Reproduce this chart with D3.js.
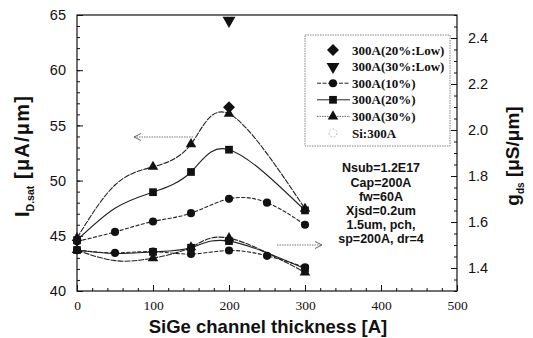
<!DOCTYPE html>
<html><head><meta charset="utf-8">
<script src="https://cdn.jsdelivr.net/npm/d3@7/dist/d3.min.js"></script>
<style>
html,body{margin:0;padding:0;background:#fff;}
svg{display:block;}
</style></head>
<body>
<svg id="c" width="533" height="338"></svg>
<script>
// ---- data ----
const xTickValues = [0, 100, 200, 300, 400, 500];
const leftTickValues = [40, 45, 50, 55, 60, 65];
const rightTickValues = [1.4, 1.6, 1.8, 2.0, 2.2, 2.4];

const thickness10 = [0, 50, 100, 150, 200, 250, 300];
const thickness2030 = [0, 50, 100, 150, 200, 300];
// points of the 20%/30% series that carry a visible marker
const marked10 = [true, true, true, true, true, true, true];
const marked2030 = [true, false, true, true, true, true];

// I_D,sat (left axis)
const idsat10 = [44.5, 45.35, 46.3, 47.05, 48.35, 48.0, 46.0];
const idsat20 = [44.6, 47.5, 48.95, 50.78, 52.8, 47.3];
const idsat30 = [44.8, 49.6, 51.25, 53.3, 56.05, 47.45];
const lowThickness = [200];
const idsat20Low = [56.65];
const idsat30Low = [64.5];

// g_ds (right axis)
const gds10 = [1.478, 1.466, 1.471, 1.461, 1.476, 1.453, 1.403];
const gds20 = [1.478, 1.463, 1.470, 1.488, 1.517, 1.397];
const gds30 = [1.478, 1.432, 1.443, 1.490, 1.530, 1.381];

const legendLabels = ["300A(20%:Low)", "300A(30%:Low)", "300A(10%)", "300A(20%)", "300A(30%)", "Si:300A"];
const noteLines = ["Nsub=1.2E17", "Cap=200A", "fw=60A", "Xjsd=0.2um", "1.5um, pch,", "sp=200A, dr=4"];

// ---- layout ----
const X0 = 77, X1 = 457, Y0 = 15, Y1 = 291;
const svg = d3.select("#c");
const sans = "'Liberation Sans', Arial, sans-serif";
const serif = "'Liberation Serif', 'Times New Roman', serif";

const x = d3.scaleLinear().domain([0, 500]).range([X0, X1]);
const yL = d3.scaleLinear().domain([40, 65]).range([Y1, Y0]);
const yR = d3.scaleLinear().domain([1.3, 2.5]).range([Y1, Y0]);

const ink = "#111";

// frame
svg.append("rect").attr("x", X0).attr("y", Y0).attr("width", X1 - X0).attr("height", Y1 - Y0)
  .attr("fill", "none").attr("stroke", ink).attr("stroke-width", 1.2);

// bottom axis: minor + major ticks (inward)
const gB = svg.append("g").attr("transform", `translate(0,${Y1})`);
gB.call(d3.axisBottom(x).tickValues(d3.range(0, 501, 20)).tickSize(-3).tickFormat(""));
gB.call(g => g.append("g").call(d3.axisBottom(x).tickValues(xTickValues).tickSize(-6).tickFormat(d3.format("d"))));
gB.selectAll(".domain").remove();
gB.selectAll("line").attr("stroke", ink);
gB.selectAll("text").attr("font-family", serif).attr("font-size", 13.5).attr("fill", ink)
  .attr("y", 9).attr("dy", "0.71em");

// left axis
const gL = svg.append("g").attr("transform", `translate(${X0},0)`);
gL.call(d3.axisLeft(yL).tickValues(d3.range(40, 65.01, 1)).tickSize(-3).tickFormat(""));
gL.call(g => g.append("g").call(d3.axisLeft(yL).tickValues(leftTickValues).tickSize(-6).tickFormat(d3.format("d"))));
gL.selectAll(".domain").remove();
gL.selectAll("line").attr("stroke", ink);
gL.selectAll("text").attr("font-family", sans).attr("font-size", 14.5).attr("fill", ink).attr("x", -11);

// right axis
const gR = svg.append("g").attr("transform", `translate(${X1},0)`);
gR.call(d3.axisRight(yR).tickValues(d3.range(1.3, 2.501, 0.05)).tickSize(-3).tickFormat(""));
gR.call(g => g.append("g").call(d3.axisRight(yR).tickValues(rightTickValues).tickSize(-6).tickFormat(d3.format(".1f"))));
gR.selectAll(".domain").remove();
gR.selectAll("line").attr("stroke", ink);
gR.selectAll("text").attr("font-family", sans).attr("font-size", 14.5).attr("fill", ink).attr("x", 11);

// axis titles
svg.append("text").attr("x", (X0 + X1) / 2 + 1).attr("y", 333).attr("text-anchor", "middle")
  .attr("font-family", sans).attr("font-weight", "bold").attr("font-size", 18.5).attr("fill", ink)
  .text("SiGe channel thickness [A]");

const tl = svg.append("text").attr("transform", "translate(29,156) rotate(-90)").attr("text-anchor", "middle")
  .attr("font-family", sans).attr("font-weight", "bold").attr("font-size", 20).attr("fill", ink);
tl.append("tspan").text("I");
tl.append("tspan").attr("font-size", 10.5).attr("dy", 5).text("D.sat");
tl.append("tspan").attr("dy", -5).attr("letter-spacing", 1.2).text(" [\u03bcA/\u03bcm]");

const tr = svg.append("text").attr("transform", "translate(519,156) rotate(-90)").attr("text-anchor", "middle")
  .attr("font-family", sans).attr("font-weight", "bold").attr("font-size", 19).attr("fill", ink);
tr.append("tspan").text("g");
tr.append("tspan").attr("font-size", 10).attr("dy", 5).text("ds");
tr.append("tspan").attr("dy", -5).text(" [\u03bcS/\u03bcm]");

// series definitions
const series = [
  {xs: thickness10, ys: idsat10, marked: marked10, scale: yL, sym: "circle", dash: "4,1.5"},
  {xs: thickness2030, ys: idsat20, marked: marked2030, scale: yL, sym: "square", dash: null},
  {xs: thickness2030, ys: idsat30, marked: marked2030, scale: yL, sym: "triangle", dash: "6,1"},
  {xs: thickness10, ys: gds10, marked: marked10, scale: yR, sym: "circle", dash: "4,1.5"},
  {xs: thickness2030, ys: gds20, marked: marked2030, scale: yR, sym: "square", dash: null},
  {xs: thickness2030, ys: gds30, marked: marked2030, scale: yR, sym: "triangle", dash: "6,1"}
];

function symPath(kind) {
  if (kind === "circle") return d3.symbol(d3.symbolCircle, 52)();
  if (kind === "square") return d3.symbol(d3.symbolSquare, 60)();
  if (kind === "triangle") return d3.symbol(d3.symbolTriangle, 48)();
  if (kind === "diamond") return d3.symbol(d3.symbolSquare, 72)();
  if (kind === "tdown") return d3.symbol(d3.symbolTriangle, 72)();
  return null;
}
function symRot(kind) { return kind === "diamond" ? 45 : (kind === "tdown" ? 180 : 0); }

const plot = svg.append("g");
series.forEach(s => {
  const pts = s.xs.map((v, i) => [x(v), s.scale(s.ys[i])]);
  plot.append("path").attr("d", d3.line().curve(d3.curveNatural)(pts))
    .attr("fill", "none").attr("stroke", "#222").attr("stroke-width", 1.1)
    .attr("stroke-dasharray", s.dash);
});
series.forEach(s => {
  s.xs.forEach((v, i) => {
    if (!s.marked[i]) return;
    plot.append("path").attr("d", symPath(s.sym)).attr("fill", ink)
      .attr("transform", `translate(${x(v)},${s.scale(s.ys[i])}) rotate(${symRot(s.sym)})`);
  });
});
lowThickness.forEach((v, i) => {
  plot.append("path").attr("d", symPath("diamond")).attr("fill", ink)
    .attr("transform", `translate(${x(v)},${yL(idsat20Low[i])}) rotate(45)`);
  plot.append("path").attr("d", symPath("tdown")).attr("fill", ink)
    .attr("transform", `translate(${x(v)},${yL(idsat30Low[i])}) rotate(180)`);
});

// arrows
function arrow(x1, x2, y, dir) {
  svg.append("line").attr("x1", x1).attr("x2", x2).attr("y1", y).attr("y2", y)
    .attr("stroke", "#777").attr("stroke-width", 1).attr("stroke-dasharray", "1.5,1");
  const tip = dir < 0 ? Math.min(x1, x2) : Math.max(x1, x2);
  svg.append("path").attr("d", `M${tip - dir * 7},${y - 3.5} L${tip},${y} L${tip - dir * 7},${y + 3.5}`)
    .attr("fill", "none").attr("stroke", "#666").attr("stroke-width", 1);
}
arrow(193, 134, 137, -1);
arrow(277, 322, 245, 1);

// legend
const LX = 305, LY = 35, LW = 145, LH = 111;
svg.append("rect").attr("x", LX).attr("y", LY).attr("width", LW).attr("height", LH)
  .attr("fill", "#fff").attr("stroke", "#777").attr("stroke-width", 0.9).attr("stroke-dasharray", "1.5,1");
const legendSyms = ["diamond", "tdown", "circle", "square", "triangle", "open"];
const legendDash = [null, null, "4,1.5", "none", "1.5,1", null];
const legendHasLine = [false, false, true, true, true, false];
legendLabels.forEach((lab, i) => {
  const cy = 50 + i * 16.6;
  if (legendHasLine[i]) {
    svg.append("line").attr("x1", 317).attr("x2", 350).attr("y1", cy).attr("y2", cy)
      .attr("stroke", i === 4 ? "#666" : "#222").attr("stroke-width", 1)
      .attr("stroke-dasharray", legendDash[i] === "none" ? null : legendDash[i]);
  }
  if (legendSyms[i] === "open") {
    svg.append("circle").attr("cx", 333).attr("cy", cy).attr("r", 4)
      .attr("fill", "none").attr("stroke", "#bbb").attr("stroke-dasharray", "2,1.5");
  } else {
    svg.append("path").attr("d", symPath(legendSyms[i])).attr("fill", ink)
      .attr("transform", `translate(333,${cy}) rotate(${symRot(legendSyms[i])})`);
  }
  svg.append("text").attr("x", 352).attr("y", cy).attr("dy", "0.35em")
    .attr("font-family", serif).attr("font-weight", "bold").attr("font-size", 13).attr("fill", ink)
    .text(lab);
});

// annotation
noteLines.forEach((t, i) => {
  svg.append("text").attr("x", 381).attr("y", 168 + i * 14.2).attr("dy", "0.35em")
    .attr("text-anchor", "middle").attr("font-family", sans).attr("font-weight", "bold")
    .attr("font-size", 12.5).attr("fill", ink).text(t);
});
</script>
</body></html>
